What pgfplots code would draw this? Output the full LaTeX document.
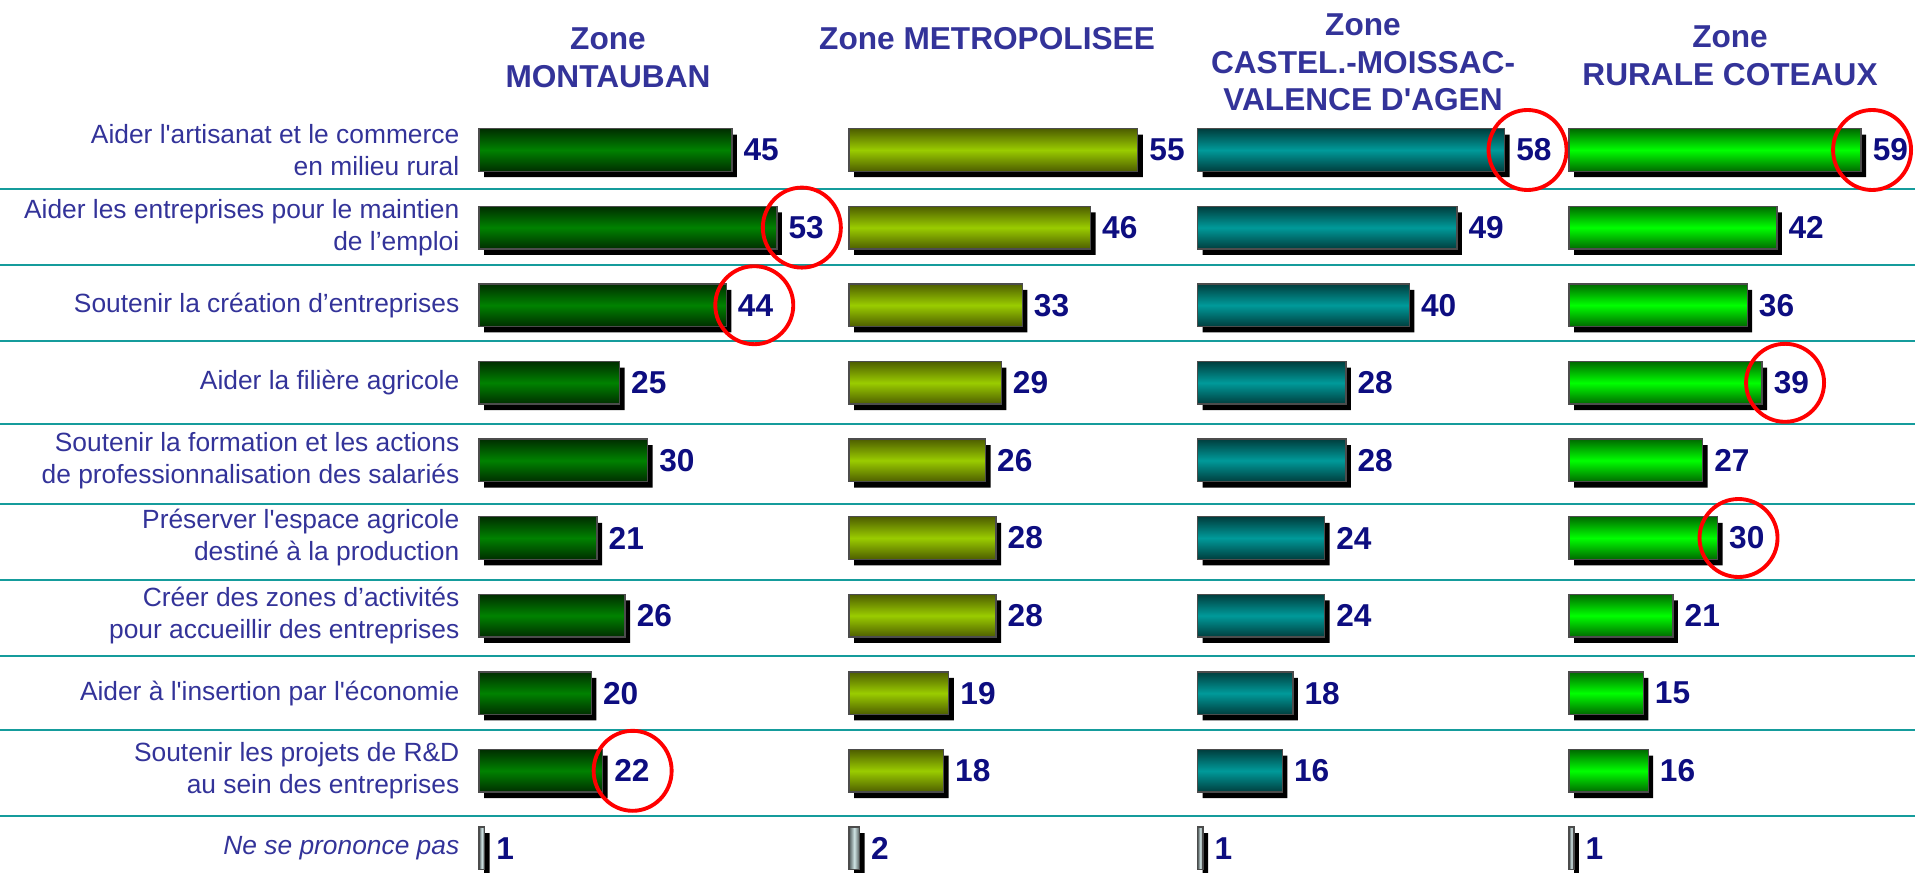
\documentclass[border=0pt]{standalone}
\usepackage{fontspec}
\setmainfont{Liberation Sans}
\usepackage{pgfplots}
\pgfplotsset{compat=1.18}
\definecolor{titleblue}{HTML}{333399}
\definecolor{valnavy}{HTML}{0D0D80}
\definecolor{sepcol}{HTML}{159C9C}
\definecolor{gAdark}{HTML}{002E00}
\definecolor{gAmid}{HTML}{008200}
\definecolor{gBdark}{HTML}{4E5E00}
\definecolor{gBmid}{HTML}{9ACC00}
\definecolor{gCdark}{HTML}{003E3E}
\definecolor{gCmid}{HTML}{009A9A}
\definecolor{gDdark}{HTML}{006A00}
\definecolor{gDmid}{HTML}{00FF00}
\definecolor{nsdark}{HTML}{505A5A}
\definecolor{nsmid}{HTML}{D0E4E4}
\tikzset{ring/.style={red, line width=1.1pt}}
\pgfplotsset{
  panel/.style={
    y dir=reverse, y=0.776cm, ymin=0.5, ymax=10.3, xmin=0, xmax=60,
    xbar, bar width=0.425cm,
    axis line style={draw=none}, major tick length=0pt, xtick=\empty, ytick=\empty,
    clip=false, anchor=north west,
    /pgf/number format/assume math mode=true,
  },
  shadowplot/.style={fill=black, draw=none, bar shift=0pt, xshift=0.05cm, yshift=-0.06cm},
  valnodes/.style={nodes near coords,
    every node near coord/.append style={anchor=west, inner sep=0pt, xshift=0.11cm,
      font=\fontsize{9}{10}\bfseries\selectfont, text=valnavy}},
  fA/.style={bar shift=0pt, draw=black!70, line width=0.4pt,
    top color=gAdark, bottom color=gAdark, middle color=gAmid, valnodes},
  fB/.style={bar shift=0pt, draw=black!70, line width=0.4pt,
    top color=gBdark, bottom color=gBdark, middle color=gBmid, valnodes},
  fC/.style={bar shift=0pt, draw=black!70, line width=0.4pt,
    top color=gCdark, bottom color=gCdark, middle color=gCmid, valnodes},
  fD/.style={bar shift=0pt, draw=black!70, line width=0.4pt,
    top color=gDdark, bottom color=gDdark, middle color=gDmid, valnodes},
  nsplot/.style={bar shift=0pt, draw=black!70, line width=0.4pt,
    left color=nsdark, right color=nsdark, middle color=nsmid, valnodes},
}
\begin{document}
\begin{tikzpicture}
\path[use as bounding box] (0,0) rectangle (19.15cm,8.72cm);
% separators
\foreach \yy in {6.83,6.07,5.31,4.48,3.68,2.92,2.16,1.42,0.56}{
  \draw[sepcol, line width=0.75pt] (0,\yy cm) -- (19.15cm,\yy cm);
}
% Panel 1
\begin{axis}[panel, x=0.0562cm, at={(4.79cm,7.608cm)},
  ytick={1,...,10},
  yticklabels={{Aider l\textquotesingle artisanat et le commerce\\en milieu rural},
    {Aider les entreprises pour le maintien\\de l’emploi},
    {Soutenir la création d’entreprises},
    {Aider la filière agricole},
    {Soutenir la formation et les actions\\de professionnalisation des salariés},
    {Préserver l\textquotesingle espace agricole\\destiné à la production},
    {Créer des zones d’activités\\pour accueillir des entreprises},
    {Aider à l\textquotesingle insertion par l\textquotesingle économie},
    {Soutenir les projets de R\&D\\au sein des entreprises},
    {\itshape Ne se prononce pas}},
  yticklabel style={align=right, anchor=east, inner sep=0pt, xshift=-0.19cm,
    font=\fontsize{7.5}{9.1}\selectfont, text=titleblue},
]
\addplot[shadowplot] coordinates {(45,1) (53,2) (44,3) (25,4) (30,5) (21,6) (26,7) (20,8) (22,9) (1,10)};
\addplot[fA] coordinates {(45,1)};
\addplot[fA] coordinates {(53,2)};
\addplot[fA] coordinates {(44,3)};
\addplot[fA] coordinates {(25,4)};
\addplot[fA] coordinates {(30,5)};
\addplot[fA] coordinates {(21,6)};
\addplot[fA] coordinates {(26,7)};
\addplot[fA] coordinates {(20,8)};
\addplot[fA] coordinates {(22,9)};
\addplot[nsplot] coordinates {(1,10)};
\draw[ring] ([xshift=0.25cm]axis cs:53,2) ellipse [x radius=0.39cm, y radius=0.40cm];
\draw[ring] ([xshift=0.28cm]axis cs:44,3) ellipse [x radius=0.39cm, y radius=0.39cm];
\draw[ring] ([xshift=0.30cm]axis cs:22,9) ellipse [x radius=0.39cm, y radius=0.40cm];
\end{axis}
% Panel 2
\begin{axis}[panel, x=0.0525cm, at={(8.49cm,7.608cm)}]
\addplot[shadowplot] coordinates {(55,1) (46,2) (33,3) (29,4) (26,5) (28,6) (28,7) (19,8) (18,9) (2,10)};
\addplot[fB] coordinates {(55,1)};
\addplot[fB] coordinates {(46,2)};
\addplot[fB] coordinates {(33,3)};
\addplot[fB] coordinates {(29,4)};
\addplot[fB] coordinates {(26,5)};
\addplot[fB] coordinates {(28,6)};
\addplot[fB] coordinates {(28,7)};
\addplot[fB] coordinates {(19,8)};
\addplot[fB] coordinates {(18,9)};
\addplot[nsplot] coordinates {(2,10)};
\end{axis}
% Panel 3
\begin{axis}[panel, x=0.0529cm, at={(11.977cm,7.608cm)}]
\addplot[shadowplot] coordinates {(58,1) (49,2) (40,3) (28,4) (28,5) (24,6) (24,7) (18,8) (16,9) (1,10)};
\addplot[fC] coordinates {(58,1)};
\addplot[fC] coordinates {(49,2)};
\addplot[fC] coordinates {(40,3)};
\addplot[fC] coordinates {(28,4)};
\addplot[fC] coordinates {(28,5)};
\addplot[fC] coordinates {(24,6)};
\addplot[fC] coordinates {(24,7)};
\addplot[fC] coordinates {(18,8)};
\addplot[fC] coordinates {(16,9)};
\addplot[nsplot] coordinates {(1,10)};
\draw[ring] ([xshift=0.23cm]axis cs:58,1) ellipse [x radius=0.39cm, y radius=0.40cm];
\end{axis}
% Panel 4
\begin{axis}[panel, x=0.0495cm, at={(15.69cm,7.608cm)}]
\addplot[shadowplot] coordinates {(59,1) (42,2) (36,3) (39,4) (27,5) (30,6) (21,7) (15,8) (16,9) (1,10)};
\addplot[fD] coordinates {(59,1)};
\addplot[fD] coordinates {(42,2)};
\addplot[fD] coordinates {(36,3)};
\addplot[fD] coordinates {(39,4)};
\addplot[fD] coordinates {(27,5)};
\addplot[fD] coordinates {(30,6)};
\addplot[fD] coordinates {(21,7)};
\addplot[fD] coordinates {(15,8)};
\addplot[fD] coordinates {(16,9)};
\addplot[nsplot] coordinates {(1,10)};
\draw[ring] ([xshift=0.11cm]axis cs:59,1) ellipse [x radius=0.39cm, y radius=0.40cm];
\draw[ring] ([xshift=0.23cm]axis cs:39,4) ellipse [x radius=0.39cm, y radius=0.39cm];
\draw[ring] ([xshift=0.21cm]axis cs:30,6) ellipse [x radius=0.39cm, y radius=0.39cm];
\end{axis}
% titles
\begin{scope}[every node/.style={inner sep=0pt, text=titleblue, font=\fontsize{9}{10.8}\bfseries\selectfont}]
\node at (6.08cm,8.33cm) {Zone};
\node at (6.08cm,7.95cm) {MONTAUBAN};
\node at (9.87cm,8.33cm) {Zone METROPOLISEE};
\node at (13.63cm,8.47cm) {Zone};
\node at (13.63cm,8.09cm) {CASTEL.-MOISSAC-};
\node at (13.63cm,7.72cm) {VALENCE D\textquotesingle AGEN};
\node at (17.30cm,8.35cm) {Zone};
\node at (17.30cm,7.97cm) {RURALE COTEAUX};
\end{scope}
\end{tikzpicture}
\end{document}
